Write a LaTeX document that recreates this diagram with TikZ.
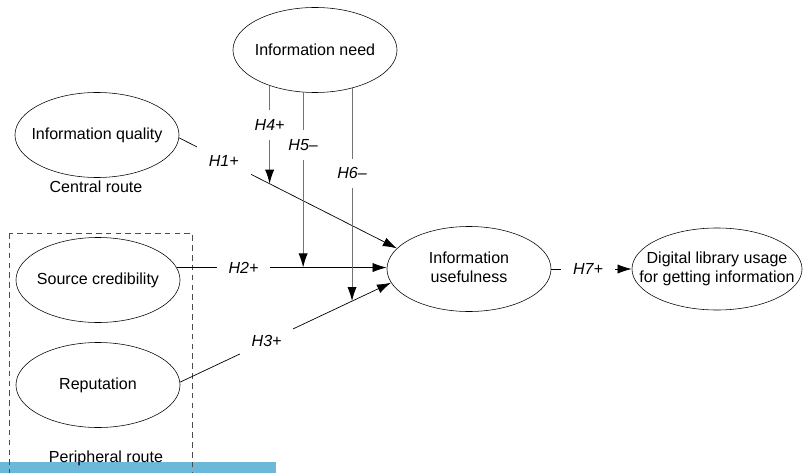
\documentclass[tikz,border=0pt]{standalone}
\usepackage{fontspec}
\setmainfont{Liberation Sans}
\usetikzlibrary{shapes.geometric,arrows.meta}
\definecolor{barblue}{RGB}{108,184,216}

\begin{document}
\begin{tikzpicture}[x=0.025cm,y=-0.025cm,
	font=\fontsize{11.4}{13.5}\selectfont,
	oval/.style={draw,ellipse,inner sep=0pt,minimum width=4.1cm,minimum height=2.125cm},
	hyp/.style={line width=0.5pt,-{Latex[length=10pt,width=6.5pt]}},
	mod/.style={line width=0.7pt,draw=black!55,-{Latex[length=10pt,width=6.5pt,color=black]}},
	hlbl/.style={fill=white,inner xsep=8.5pt,inner ysep=6.5pt,font=\fontsize{11.4}{13.5}\selectfont\itshape}]
	\clip (0,0) rectangle (804,473);
	\fill[barblue] (0,462) rectangle (276,473);

	% constructs
	\node[oval] (need) at (315,50) {\makebox[0pt]{Information need}};
	\node[oval] (iq) at (97,135) {\makebox[0pt]{Information quality}};
	\node (central) at (96,187) {Central route};

	\draw[dashed,black!70,dash pattern=on 4pt off 3pt] (9,233) rectangle (192,490);
	\node[oval] (sc) at (98,280) {\makebox[0pt]{Source credibility}};
	\node[oval] (rep) at (98,385) {\makebox[0pt]{Reputation}};
	\node (peripheral) at (106,458) {Peripheral route};

	\node[oval] (iu) at (469,269) {\makebox[0pt]{\begin{tabular}{@{}c@{}}Information\\usefulness\end{tabular}}};
	\node[oval,minimum width=4.25cm,minimum height=2.05cm] (dl) at (717,269) {\makebox[0pt]{\begin{tabular}{@{}c@{}}Digital library usage\\for getting information\end{tabular}}};

	% direct paths
	\draw[hyp] (iq.358) -- node[hlbl,pos=0.205] (h1) {H1+} coordinate[pos=0.4155] (m4) (iu.164);
	\draw[hyp] (sc.9.5) -- node[hlbl,pos=0.318] (h2) {H2+} coordinate[pos=0.602] (m5) (sc.9.5 -| iu.west);
	\draw[hyp] (rep.2) -- node[hlbl,pos=0.41] (h3) {H3+} coordinate[pos=0.815] (m6) (iu.190);
	\draw[hyp] (iu.east) -- node[hlbl,pos=0.457] (h7) {H7+} (dl.west);

	% moderation by information need
	\draw[mod] (need.219 -| m4) -- node[hlbl,pos=0.4] (h4) {H4+} (m4);
	\draw[mod] (need.254 -| m5) -- node[hlbl,pos=0.3] (h5) {H5--} (m5);
	\draw[mod] (need.314 -| m6) -- node[hlbl,pos=0.4] (h6) {H6--} (m6);
\end{tikzpicture}
\end{document}
